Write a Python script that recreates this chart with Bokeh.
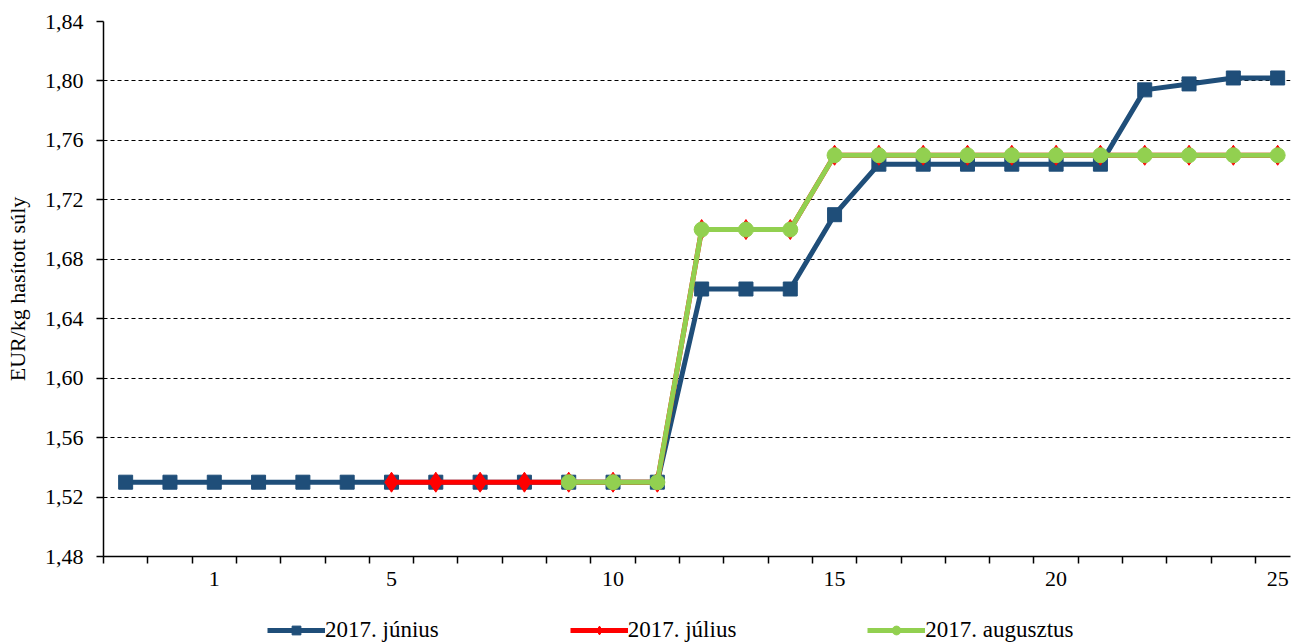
import math
from bokeh.plotting import figure
from bokeh.layouts import column
from bokeh.models import Range1d, FixedTicker, CustomJSTickFormatter, Legend, LegendItem
from bokeh.embed import file_html
from bokeh.resources import INLINE

# ---- data ----
weeks = ["51", "52", "1", "2", "3", "4", "5", "6", "7", "8", "9", "10", "11", "12",
         "13", "14", "15", "16", "17", "18", "19", "20", "21", "22", "23", "24", "25"]
shown_weeks = ["1", "5", "10", "15", "20", "25"]
nan = float("nan")
june = [1.53, 1.53, 1.53, 1.53, 1.53, 1.53, 1.53, 1.53, 1.53, 1.53, 1.53, 1.53, 1.53,
        1.66, 1.66, 1.66, 1.71, 1.744, 1.744, 1.744, 1.744, 1.744, 1.744,
        1.794, 1.798, 1.802, 1.802]
july = [nan, nan, nan, nan, nan, nan, 1.53, 1.53, 1.53, 1.53, 1.53, 1.53, 1.53,
        1.70, 1.70, 1.70, 1.75, 1.75, 1.75, 1.75, 1.75, 1.75, 1.75,
        1.75, 1.75, 1.75, 1.75]
august = [nan, nan, nan, nan, nan, nan, nan, nan, nan, nan, 1.53, 1.53, 1.53,
          1.70, 1.70, 1.70, 1.75, 1.75, 1.75, 1.75, 1.75, 1.75, 1.75,
          1.75, 1.75, 1.75, 1.75]
series_names = ["2017. június", "2017. július", "2017. augusztus"]
y_ticks = [1.48, 1.52, 1.56, 1.60, 1.64, 1.68, 1.72, 1.76, 1.80, 1.84]

FONT = "Liberation Serif"
FS = "22px"
NAVY = "#1F4E79"
RED = "#FF0000"
GREEN = "#92D050"

x = list(range(len(weeks)))

p = figure(width=1292, height=598, output_backend="svg", toolbar_location=None,
           x_range=Range1d(-0.5, 26.29), y_range=Range1d(y_ticks[0], y_ticks[-1]),
           min_border_left=103, min_border_top=21, min_border_right=2,
           min_border_bottom=42)
p.outline_line_color = None
p.background_fill_color = "white"

# grid
p.xgrid.visible = False
p.ygrid.ticker = FixedTicker(ticks=y_ticks[1:])
p.ygrid.grid_line_color = "#000000"
p.ygrid.grid_line_dash = "4 3"
p.ygrid.grid_line_width = 1

# y axis
p.yaxis.ticker = FixedTicker(ticks=y_ticks)
p.yaxis.formatter = CustomJSTickFormatter(code="return tick.toFixed(2).replace('.', ',');")
p.yaxis.axis_line_width = 1.5
p.yaxis.major_tick_line_width = 1.5
p.yaxis.major_tick_out = 7
p.yaxis.major_tick_in = 0
p.yaxis.minor_tick_line_color = None
p.yaxis.major_label_standoff = 13
p.yaxis.major_label_text_font = FONT
p.yaxis.major_label_text_font_size = FS
p.yaxis.major_label_text_color = "black"
p.yaxis.axis_label = "EUR/kg hasított súly"
p.yaxis.axis_label_text_font = FONT
p.yaxis.axis_label_text_font_size = FS
p.yaxis.axis_label_text_font_style = "normal"
p.yaxis.axis_label_text_color = "black"
p.yaxis.axis_label_standoff = 12

# x axis
label_pos = [i for i, w in enumerate(weeks) if w in shown_weeks]
boundaries = [i - 0.5 for i in range(len(weeks) + 1)]
p.xaxis.ticker = FixedTicker(ticks=label_pos, minor_ticks=boundaries)
p.xaxis.formatter = CustomJSTickFormatter(args=dict(labels=weeks),
                                          code="const v = labels[Math.round(tick)]; return v === undefined ? '' : v;")
p.xaxis.axis_line_width = 1.5
p.xaxis.major_tick_out = 0
p.xaxis.major_tick_in = 0
p.xaxis.minor_tick_out = 7
p.xaxis.minor_tick_in = 0
p.xaxis.minor_tick_line_width = 1.5
p.xaxis.minor_tick_line_color = "black"
p.xaxis.major_label_standoff = 8
p.xaxis.major_label_text_font = FONT
p.xaxis.major_label_text_font_size = FS
p.xaxis.major_label_text_color = "black"

styles = [
    dict(color=NAVY, marker="square", size=14),
    dict(color=RED, marker="diamond", size=20),
    dict(color=GREEN, marker="circle", size=15),
]
series = [june, july, august]

for ys, st in zip(series, styles):
    p.line(x, ys, line_color=st["color"], line_width=5)
    p.scatter(x, ys, marker=st["marker"], size=st["size"],
              fill_color=st["color"], line_color=st["color"])

# legend strip (separate small figure; same series drawn outside its view)
p2 = figure(width=1292, height=45, output_backend="svg", toolbar_location=None,
            x_range=Range1d(1000, 1001), y_range=Range1d(0, 1),
            min_border_left=0, min_border_right=0, min_border_top=0, min_border_bottom=0)
p2.axis.visible = False
p2.grid.visible = False
p2.outline_line_color = None

items = []
for name, ys, st in zip(series_names, series, styles):
    lr = p2.line(x, ys, line_color=st["color"], line_width=5)
    sr = p2.scatter(x, ys, marker=st["marker"], size=st["size"] - 1,
                    fill_color=st["color"], line_color=st["color"])
    items.append(LegendItem(label=name, renderers=[lr, sr]))

legend = Legend(items=items, orientation="horizontal", location=(164, 0))
legend.border_line_color = None
legend.background_fill_alpha = 0
legend.glyph_width = 58
legend.glyph_height = 22
legend.label_standoff = 0
legend.spacing = 131
legend.padding = 0
legend.margin = 0
legend.label_text_font = FONT
legend.label_text_font_size = "23px"
legend.label_text_color = "black"
p2.add_layout(legend, "center")

open("out.html", "w").write(file_html(column(p, p2, spacing=0), INLINE))
